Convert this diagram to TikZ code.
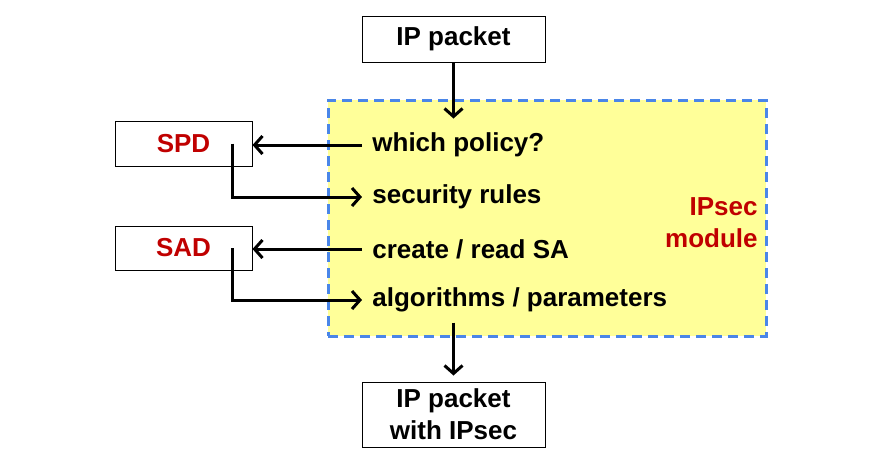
\documentclass[tikz,border=0pt]{standalone}
\usepackage{fontspec}
\setmainfont{Liberation Sans}
\usetikzlibrary{positioning,arrows.meta}
\definecolor{modfill}{HTML}{FFFF99}
\definecolor{modline}{HTML}{4A86E8}
\definecolor{dbred}{HTML}{C00000}
\begin{document}
\begin{tikzpicture}[x=0.5pt,y=-0.5pt]
\tikzstyle{every node}=[font=\bfseries\fontsize{13}{16}\selectfont]
\tikzstyle{pbox}=[rectangle,draw,line width=0.5pt,align=center]
\tikzstyle{module}=[rectangle,draw=modline,fill=modfill,line width=1.5pt,dash pattern=on 5pt off 3pt]
\tikzstyle{step text}=[anchor=west,inner sep=5pt]
\tikzstyle{arr}=[-{Straight Barb[length=4pt,width=9pt]},line width=1.5pt]
\useasboundingbox (0,0) rectangle (873,457);
\node[module,minimum width=219pt,minimum height=118pt] (mod) at (547,218) {};
\node[pbox,minimum width=91.5pt,minimum height=23pt] (pkt) at (453.5,39) {IP packet};
\node[pbox,minimum width=68.5pt,minimum height=22.5pt,text=dbred] (spd) at (183.5,143.5) {SPD};
\node[pbox,minimum width=68.5pt,minimum height=22pt,text=dbred] (sad) at (183.5,248) {SAD};
\node[step text] (policy) at (362,145) {which policy?};
\node[step text] (rules) at (362,197) {security rules};
\node[step text] (crsa) at (362,249) {create / read SA};
\node[step text] (algo) at (362,300) {algorithms / parameters};
\node[anchor=east,align=right,text=dbred,inner sep=0pt] (ipsec) at (758,223) {IPsec\\module};
\node[pbox,minimum width=91.5pt,minimum height=32.5pt] (out) at (453.5,414.5) {IP packet\\with IPsec};
% arrows
\draw[arr] (pkt.south) -- (pkt.south |- mod.north) -- ++(0,20);
\draw[arr] (policy.west) -- (policy.west -| spd.east);
\draw[arr] ([xshift=-10pt]spd.east) |- (rules.west);
\draw[arr] (crsa.west) -- (crsa.west -| sad.east);
\draw[arr] ([xshift=-10pt]sad.east) |- (algo.west);
\draw[arr,shorten >=3pt] (pkt.south |- algo.south) -- (out.north);
\end{tikzpicture}
\end{document}
